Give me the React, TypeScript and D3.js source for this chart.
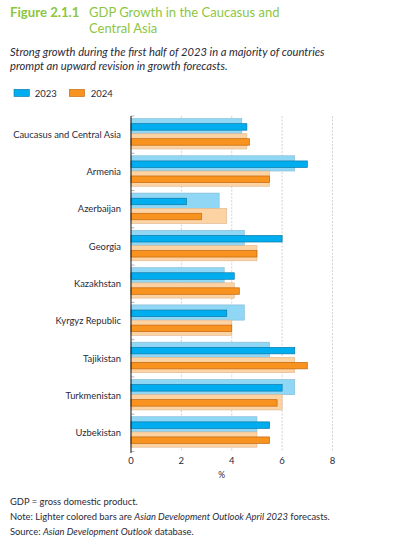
import React from "react";
import * as d3 from "d3";

const categories = [
  "Caucasus and Central Asia",
  "Armenia",
  "Azerbaijan",
  "Georgia",
  "Kazakhstan",
  "Kyrgyz Republic",
  "Tajikistan",
  "Turkmenistan",
  "Uzbekistan",
];
const april2023 = [4.4, 6.5, 3.5, 4.5, 3.7, 4.5, 5.5, 6.5, 5.0];
const april2024 = [4.6, 5.5, 3.8, 5.0, 4.1, 4.0, 6.5, 6.0, 5.0];
const sept2023 = [4.6, 7.0, 2.2, 6.0, 4.1, 3.8, 6.5, 6.0, 5.5];
const sept2024 = [4.7, 5.5, 2.8, 5.0, 4.3, 4.0, 7.0, 5.8, 5.5];
const xTicks = [0, 2, 4, 6, 8];
const seriesNames = ["2023", "2024"];

const COL = {
  dark23: "#00aeef",
  dark23s: "#0b78a8",
  light23: "#8fd7f5",
  light23s: "#86b9cf",
  dark24: "#f7931e",
  dark24s: "#c1670f",
  light24: "#fdd3a4",
  light24s: "#dcb58d",
  green: "#8dc63f",
  text: "#2a2a3a",
};

const FONT = "Lato, 'Open Sans', sans-serif";

export default function App() {
  const x = d3.scaleLinear().domain([0, 8]).range([131, 332.5]);
  const y = d3.scaleBand<string>().domain(categories).range([116, 451.5]).paddingInner(0);
  const bw = y.bandwidth();
  const sub = d3.scaleBand<string>().domain(seriesNames).range([2.5, bw - 4.3]);
  const sh = sub.bandwidth();
  const darkH = 6.5;

  return (
    <div style={{ position: "absolute", left: 0, top: 0 }}>
      <svg width={396} height={550} style={{ display: "block", fontFamily: FONT }}>
        <rect width={396} height={550} fill="#fff" />
        {/* Title */}
        <text x={10} y={16.5} fontSize={13.2} fontWeight={700} fill={COL.green}>
          Figure 2.1.1
        </text>
        <text x={89} y={16.5} fontSize={13} fill={COL.green}>
          GDP Growth in the Caucasus and
        </text>
        <text x={89} y={33} fontSize={13} fill={COL.green}>
          Central Asia
        </text>
        {/* Subtitle */}
        <text x={10} y={56} fontSize={11.2} fontStyle="italic" fill={COL.text}>
          Strong growth during the first half of 2023 in a majority of countries
        </text>
        <text x={10} y={70} fontSize={11.2} fontStyle="italic" fill={COL.text}>
          prompt an upward revision in growth forecasts.
        </text>
        {/* Legend */}
        {seriesNames.map((s, i) => (
          <g key={s}>
            <rect
              x={14 + i * 55.3}
              y={89.3}
              width={15.3}
              height={7.3}
              fill={i === 0 ? COL.dark23 : COL.dark24}
              stroke={i === 0 ? COL.dark23s : COL.dark24s}
              strokeWidth={0.6}
            />
            <text x={34.7 + i * 56} y={96.5} fontSize={9.5} fill={COL.text}>
              {s}
            </text>
          </g>
        ))}
        {/* Gridlines */}
        {xTicks.slice(1).map((t) => (
          <line
            key={t}
            x1={x(t)}
            x2={x(t)}
            y1={116}
            y2={451.5}
            stroke="#c8c8c8"
            strokeWidth={0.8}
            strokeDasharray="2,1.5"
          />
        ))}
        {/* Category boundary ticks */}
        {[...categories.map((c) => y(c)!), 451.5].map((yy, i) => (
          <line key={i} x1={131} x2={134.5} y1={yy} y2={yy} stroke="#999" strokeWidth={0.7} />
        ))}
        {/* Bars */}
        {categories.map((c, i) => {
          const y0 = y(c)!;
          const g23 = y0 + sub("2023")!;
          const g24 = y0 + sub("2024")!;
          return (
            <g key={c}>
              <rect x={x(0)} y={g23} width={x(april2023[i]) - x(0)} height={sh} fill={COL.light23} stroke={COL.light23s} strokeWidth={0.6} />
              <rect x={x(0)} y={g24} width={x(april2024[i]) - x(0)} height={sh} fill={COL.light24} stroke={COL.light24s} strokeWidth={0.6} />
              <rect x={x(0)} y={g23 + sh / 2 - darkH / 2 + 0.8} width={x(sept2023[i]) - x(0)} height={darkH} fill={COL.dark23} stroke={COL.dark23s} strokeWidth={0.7} />
              <rect x={x(0)} y={g24 + sh / 2 - darkH / 2 + 0.6} width={x(sept2024[i]) - x(0)} height={darkH} fill={COL.dark24} stroke={COL.dark24s} strokeWidth={0.7} />
              <text x={121} y={y0 + bw / 2 + 3.3} fontSize={9.4} textAnchor="end" fill={COL.text}>
                {c}
              </text>
            </g>
          );
        })}
        {/* Axis line */}
        <line x1={131} x2={131} y1={116} y2={453} stroke="#222" strokeWidth={1.1} />
        {/* X tick labels */}
        {xTicks.map((t) => (
          <text key={t} x={x(t)} y={463.5} fontSize={9.5} textAnchor="middle" fill={COL.text}>
            {t}
          </text>
        ))}
        <text x={x(3.6)} y={477.5} fontSize={8.5} textAnchor="middle" fill={COL.text}>
          %
        </text>
        {/* Notes */}
        <text x={10} y={505} fontSize={9.4} fill={COL.text}>
          GDP = gross domestic product.
        </text>
        <text x={10} y={519.5} fontSize={9.4} fill={COL.text}>
          Note: Lighter colored bars are{" "}
          <tspan fontStyle="italic">Asian Development Outlook April 2023</tspan> forecasts.
        </text>
        <text x={10} y={534.5} fontSize={9.4} fill={COL.text}>
          Source: <tspan fontStyle="italic">Asian Development Outlook</tspan> database.
        </text>
      </svg>
    </div>
  );
}
